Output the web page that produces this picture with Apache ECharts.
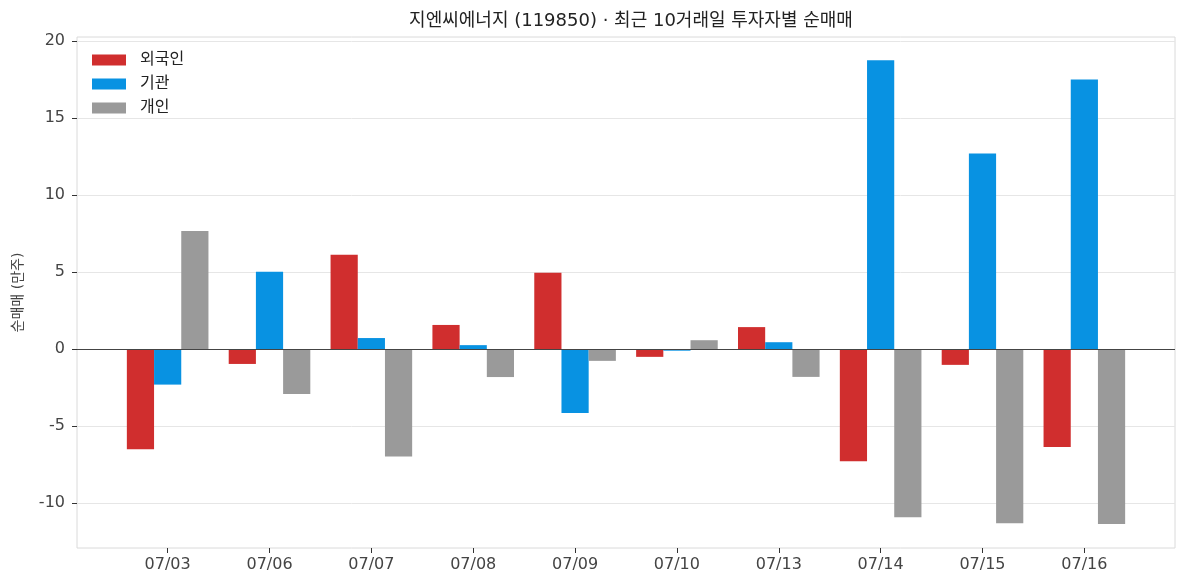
<!DOCTYPE html>
<html>
<head>
<meta charset="utf-8">
<script src="https://cdn.jsdelivr.net/npm/echarts@6/dist/echarts.min.js"></script>
<style>
  html, body { margin: 0; padding: 0; background: #fff; }
  #chart { width: 1187px; height: 587px; }
</style>
</head>
<body>
<div id="chart"></div>
<script>
// 최근 10거래일 투자자별 순매매 (단위: 만주)
const dates = ['07/03', '07/06', '07/07', '07/08', '07/09', '07/10', '07/13', '07/14', '07/15', '07/16'];
const foreign = [-6.50, -0.96, 6.13, 1.57, 4.96, -0.50, 1.43, -7.27, -1.02, -6.35];
const institution = [-2.30, 5.02, 0.72, 0.26, -4.15, -0.10, 0.45, 18.74, 12.69, 17.50];
const individual = [7.66, -2.91, -6.96, -1.81, -0.76, 0.58, -1.80, -10.90, -11.29, -11.35];
const yTicks = [-10, -5, 0, 5, 10, 15, 20];

// 숫자는 DejaVu, 한글은 Noto CJK로 떨어지게
const FONT = '"DejaVu Sans", "Noto Sans CJK KR", sans-serif';
const xIdx = dates.map((d, i) => i);

const chart = echarts.init(document.getElementById('chart'));

function barSeries(name, values, color) {
  return {
    name: name,
    type: 'bar',
    data: values.map((v, i) => [i, v]),
    barWidth: 27.2,
    barGap: '0%',
    itemStyle: { color: color },
    emphasis: { disabled: true }
  };
}

const series = [
  barSeries('외국인', foreign, '#D02E2E'),
  barSeries('기관', institution, '#0892E2'),
  barSeries('개인', individual, '#9A9A9A')
];
// 0 기준선
series[0].markLine = {
  silent: true,
  symbol: 'none',
  label: { show: false },
  lineStyle: { color: '#444', width: 1.2, type: 'solid' },
  data: [{ yAxis: 0 }]
};

chart.setOption({
  animation: false,
  textStyle: { fontFamily: FONT },
  title: {
    text: '지엔씨에너지 (119850) · 최근 10거래일 투자자별 순매매',
    left: 626,
    top: 7,
    textAlign: 'center',
    textStyle: { fontFamily: FONT, fontSize: 18, fontWeight: 'normal', color: '#222' }
  },
  legend: {
    orient: 'vertical',
    left: 92,
    top: 52,
    padding: 0,
    icon: 'rect',
    itemWidth: 34,
    itemHeight: 11,
    itemGap: 8,
    textStyle: { fontFamily: FONT, fontSize: 16, color: '#222', lineHeight: 14, padding: [0, 0, 0, 9] },
    data: ['외국인', '기관', '개인']
  },
  grid: {
    left: 77, right: 12, top: 37, bottom: 39,
    outerBoundsMode: 'none',
    show: true,
    borderColor: '#dadada',
    borderWidth: 1
  },
  xAxis: {
    type: 'value',
    min: -0.89,
    max: 9.89,
    axisLine: { show: false, onZero: false },
    splitLine: { show: false },
    axisTick: { show: true, length: 5, customValues: xIdx, lineStyle: { color: '#333' } },
    axisLabel: {
      customValues: xIdx,
      margin: 9,
      fontFamily: FONT,
      fontSize: 16,
      color: '#444',
      formatter: v => dates[Math.round(v)] || ''
    }
  },
  yAxis: {
    type: 'value',
    min: -12.9,
    max: 20.25,
    splitNumber: 6,
    name: '순매매 (만주)',
    nameLocation: 'middle',
    nameGap: 52,
    nameRotate: 90,
    nameTextStyle: { fontFamily: FONT, fontSize: 14, color: '#444' },
    axisLine: { show: false, onZero: false },
    axisTick: { show: true, length: 5, customValues: yTicks, lineStyle: { color: '#333' } },
    axisLabel: {
      customValues: yTicks,
      margin: 12,
      fontFamily: FONT,
      fontSize: 16,
      color: '#444'
    },
    splitLine: { show: true, lineStyle: { color: '#e6e6e6', width: 1 } }
  },
  series: series
});
</script>
</body>
</html>
